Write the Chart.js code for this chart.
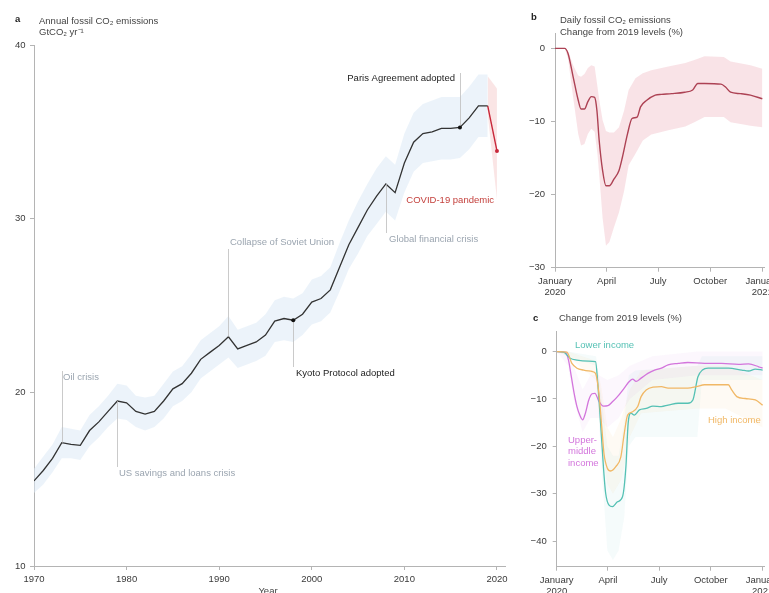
<!DOCTYPE html>
<html>
<head>
<meta charset="utf-8">
<script src="https://cdn.jsdelivr.net/npm/chart.js@4.4.1/dist/chart.umd.min.js"></script>
<style>
html, body { margin: 0; padding: 0; width: 769px; height: 593px; overflow: hidden; background: #fff; }
canvas { position: absolute; }
</style>
</head>
<body>
<canvas id="chartA" width="520" height="593" style="left:0;top:0"></canvas>
<canvas id="chartB" width="300" height="300" style="left:520px;top:0"></canvas>
<canvas id="chartC" width="300" height="293" style="left:520px;top:300px"></canvas>
<script>
// panel a: annual fossil CO2 (GtCO2/yr)
var years = [1970,1971,1972,1973,1974,1975,1976,1977,1978,1979,
             1980,1981,1982,1983,1984,1985,1986,1987,1988,1989,
             1990,1991,1992,1993,1994,1995,1996,1997,1998,1999,
             2000,2001,2002,2003,2004,2005,2006,2007,2008,2009,
             2010,2011,2012,2013,2014,2015,2016,2017,2018,2019,2020];
var emissions = [14.9,15.5,16.2,17.1,17.0,16.95,17.8,18.3,18.9,19.5,
                 19.4,18.9,18.75,18.9,19.5,20.2,20.5,21.1,21.9,22.3,
                 22.7,23.2,22.5,22.7,22.9,23.3,24.1,24.25,24.15,24.5,
                 25.2,25.4,25.9,27.2,28.5,29.5,30.5,31.3,32.0,31.5,
                 33.2,34.4,34.9,35.0,35.2,35.2,35.25,35.8,36.5,36.5,33.9];
var emissionsHigh = [15.6,16.3,17.0,18.0,17.9,17.8,18.7,19.2,19.8,20.5,
                     20.4,19.8,19.7,19.8,20.5,21.2,21.5,22.2,23.0,23.4,
                     23.8,24.4,23.6,23.8,24.0,24.5,25.3,25.5,25.4,25.7,
                     26.5,26.7,27.2,28.6,29.9,31.0,32.0,32.9,33.6,33.1,
                     34.9,36.1,36.6,36.8,37.0,37.0,37.0,37.6,38.3,38.3,null];
var emissionsLow = [14.2,14.7,15.4,16.2,16.2,16.1,16.9,17.4,18.0,18.5,
                    18.4,18.0,17.8,18.0,18.5,19.2,19.5,20.0,20.8,21.2,
                    21.6,22.0,21.4,21.6,21.8,22.1,22.9,23.0,22.9,23.3,
                    23.9,24.1,24.6,25.8,27.1,28.0,29.0,29.7,30.4,29.9,
                    31.5,32.7,33.2,33.3,33.4,33.4,33.5,34.0,34.7,34.7,null];
var covidYears = [2019, 2020];
var covidHigh = [38.2, 37.5];
var covidLow = [36.0, 31.1];
var markerYears = [1998, 2016];
var yearTicks = [1970, 1980, 1990, 2000, 2010, 2020];
var annualTicks = [10, 20, 30, 40];

var eventYears = [1973, 1979, 1991, 1998, 2008, 2016, 2020];
var eventLabels = ['Oil crisis', 'US savings and loans crisis', 'Collapse of Soviet Union',
                   'Kyoto Protocol adopted', 'Global financial crisis', 'Paris Agreement adopted',
                   'COVID-19 pandemic'];

// panel b: daily change from 2019 (%), x = day of 2020
var dailyDays = [0,17,23,32,41,46,52,58,64,70,74,78,84,90,96,104,113,119,128,136,145,151,162,177,188,206,229,243,252,264,293,301,310,327,345,366];
var dailyChange = [0,0,-0.7,-3.9,-7.1,-8.3,-8.3,-7.3,-6.6,-6.7,-8.5,-12.6,-16.7,-18.8,-18.8,-17.9,-16.7,-14.9,-11.7,-9.6,-9.4,-8.0,-7.1,-6.4,-6.3,-6.2,-6.0,-5.7,-4.8,-4.8,-4.9,-5.3,-6.0,-6.2,-6.4,-6.9];
var dailyBandDays = [0,17,23,32,41,46,52,58,64,70,75,78,84,90,96,104,113,122,130,142,155,170,200,230,246,264,298,310,345,366];
var dailyHigh = [0,0,-0.3,-2.3,-3.7,-3.9,-3.5,-2.7,-2.3,-2.5,-5.3,-7.0,-9.8,-11.3,-11.5,-11.5,-10.8,-8.5,-5.7,-4.1,-3.4,-3.0,-2.5,-2.0,-1.6,-1.1,-1.2,-1.8,-2.3,-2.8];
var dailyLow = [0,0,-1.4,-6.7,-11.7,-13.3,-13.1,-11.7,-11.0,-11.4,-14.5,-17.2,-23.2,-27.0,-26.5,-24.5,-22.4,-19.5,-16.0,-14.4,-12.6,-11.8,-11.2,-10.7,-10.1,-9.4,-9.4,-10.1,-10.6,-10.8];
var monthTicks = [0, 91, 182, 274, 366];
var monthLabels = [['January', '2020'], 'April', 'July', 'October', ['January', '2021']];
var dailyTicks = [0, -10, -20, -30];

// panel c: by income group
var lowerDays = [0,12,24,36,57,69,73,78,83,87,93,99,108,117,123,127,132,138,147,159,171,186,198,216,233,242,251,259,269,305,329,341,353,366];
var lowerChange = [0,-0.1,-1.4,-1.8,-2.0,-2.1,-6.7,-15.1,-24.3,-29.9,-32.4,-32.7,-31.7,-30.6,-24.3,-15.1,-13.0,-13.4,-12.3,-12.0,-11.5,-11.6,-11.3,-10.9,-10.9,-10.2,-5.3,-3.9,-3.5,-3.5,-3.9,-4.1,-3.7,-3.9];
var upperMidDays = [0,15,21,26,31,36,41,46,51,57,63,68,75,83,91,99,108,120,129,135,141,150,162,174,186,198,216,233,263,293,323,341,359,366];
var upperMidChange = [0,-0.1,-1.8,-5.3,-8.8,-11.6,-13.4,-14.4,-13.0,-10.2,-8.9,-8.8,-10.5,-11.5,-11.4,-10.6,-9.5,-7.7,-6.3,-5.8,-6.3,-5.6,-4.6,-3.9,-3.5,-2.8,-2.5,-2.3,-2.5,-2.5,-2.7,-2.6,-3.2,-3.5];
var highDays = [0,18,27,36,48,63,69,75,80,84,90,96,105,114,120,126,135,144,150,159,171,186,198,216,233,248,263,281,305,311,320,335,353,366];
var highChange = [0,-0.1,-2.5,-3.5,-3.9,-4.2,-4.6,-8.8,-15.8,-21.5,-24.6,-25.2,-24.3,-22.2,-17.3,-13.4,-12.7,-11.6,-9.5,-8.1,-7.5,-7.4,-7.7,-7.7,-7.7,-7.4,-7.0,-7.0,-7.0,-8.1,-9.5,-9.9,-10.2,-11.3];

var lowerBandDays = [0,20,70,80,90,100,110,120,128,140,250,258,366];
var lowerBandHigh = [0,0,-1,-10,-20,-22,-22,-15,-5,-4,-3,-1,-1];
var lowerBandLow = [0,-1,-3,-25,-42,-44,-42,-35,-20,-18,-18,-6,-6];
var upperMidBandDays = [0,20,30,46,60,75,90,110,130,170,250,366];
var upperMidBandHigh = [0,0,-3,-8,-5,-5,-6,-5,-3,-1,0,0];
var upperMidBandLow = [0,-3,-10,-17,-14,-14,-16,-14,-10,-6,-5,-5];
var highBandDays = [0,20,70,80,90,100,115,130,150,250,300,366];
var highBandHigh = [0,0,-2,-8,-16,-18,-14,-8,-4,-3,-3,-6];
var highBandLow = [0,-1,-6,-20,-28,-30,-27,-18,-13,-12,-12,-16];
var groupTicks = [0, -10, -20, -30, -40];

Chart.defaults.font.family = "'Liberation Sans', Arial, sans-serif";
Chart.defaults.font.size = 9.5;
Chart.defaults.color = '#3a3a3a';

var FONT = "9.5px 'Liberation Sans', Arial, sans-serif";
var BOLD = "bold 9.5px 'Liberation Sans', Arial, sans-serif";
var AXIS = '#b4b4b4';
var GREY_TXT = '#9ba5b0';

function pts(xs, ys) {
    return xs.map(function (x, i) { return { x: x, y: ys[i] }; });
}
function minus(v) {
    return v < 0 ? '\u2212' + Math.abs(v) : String(v);
}
function band(xs, lo, hi, colour) {
    return [
        { data: pts(xs, lo), borderWidth: 0, pointRadius: 0, fill: false },
        { data: pts(xs, hi), borderWidth: 0, pointRadius: 0, fill: '-1', backgroundColor: colour }
    ];
}
function line(xs, ys, colour, width) {
    return { data: pts(xs, ys), borderColor: colour, borderWidth: width || 1.3, pointRadius: 0,
             fill: false, cubicInterpolationMode: 'monotone' };
}
function text(ctx, s, x, y, colour, align, font) {
    ctx.save();
    ctx.font = font || FONT;
    ctx.fillStyle = colour;
    ctx.textAlign = align || 'left';
    ctx.textBaseline = 'middle';
    ctx.fillText(s, x, y);
    ctx.restore();
}
function axisX(min, max, ticks, labels, height, fmt) {
    return {
        type: 'linear', min: min, max: max,
        afterBuildTicks: function (s) { s.ticks = ticks.map(function (v) { return { value: v }; }); },
        afterFit: function (s) { s.height = height; },
        grid: { drawOnChartArea: false, tickLength: 4, color: AXIS },
        border: { color: AXIS, width: 1 },
        ticks: { padding: 3.5, maxRotation: 0, autoSkip: false,
                 callback: function (v) { return labels ? labels[ticks.indexOf(v)] : fmt(v); } }
    };
}
function axisY(min, max, ticks, width, pad) {
    return {
        min: min, max: max,
        afterBuildTicks: function (s) { s.ticks = ticks.map(function (v) { return { value: v }; }); },
        afterFit: function (s) { s.width = width; },
        grid: { drawOnChartArea: false, tickLength: 4, color: AXIS },
        border: { color: AXIS, width: 1 },
        ticks: { padding: pad, callback: minus }
    };
}
function opts(padding, x, y) {
    return {
        responsive: false, animation: false,
        layout: { padding: padding },
        plugins: { legend: { display: false }, tooltip: { enabled: false },
                   filler: { drawTime: 'beforeDatasetsDraw' } },
        scales: { x: x, y: y }
    };
}

// ---- panel a ----
var eventLayout = [
    { tx: 63,  ty: 377, end: 371, align: 'left',  colour: GREY_TXT },
    { tx: 119, ty: 473, end: 467, align: 'left',  colour: GREY_TXT },
    { tx: 230, ty: 242, end: 249, align: 'left',  colour: GREY_TXT },
    { tx: 296, ty: 373, end: 367, align: 'left',  colour: '#222' },
    { tx: 389, ty: 239, end: 233, align: 'left',  colour: GREY_TXT },
    { tx: 455, ty: 78,  end: 73,  align: 'right', colour: '#222' },
    { tx: 494, ty: 200, end: null, align: 'right', colour: '#c4413d' }
];

var annotatePlugin = {
    id: 'annotateA',
    afterDatasetsDraw: function (chart) {
        var ctx = chart.ctx, xs = chart.scales.x, ys = chart.scales.y;
        eventYears.forEach(function (yr, i) {
            var L = eventLayout[i];
            if (L.end !== null) {
                var px = Math.round(xs.getPixelForValue(yr)) + 0.5;
                var py = ys.getPixelForValue(emissions[years.indexOf(yr)]);
                ctx.save();
                ctx.strokeStyle = '#bdbdbd';
                ctx.lineWidth = 0.8;
                ctx.beginPath();
                ctx.moveTo(px, py);
                ctx.lineTo(px, L.end);
                ctx.stroke();
                ctx.restore();
            }
            text(ctx, eventLabels[i], L.tx, L.ty, L.colour, L.align);
        });
        // markers
        markerYears.forEach(function (yr) {
            ctx.save();
            ctx.fillStyle = '#111';
            ctx.beginPath();
            ctx.arc(xs.getPixelForValue(yr), ys.getPixelForValue(emissions[years.indexOf(yr)]), 2, 0, Math.PI * 2);
            ctx.fill();
            ctx.restore();
        });
        var last = years.length - 1;
        ctx.save();
        ctx.fillStyle = '#c8283a';
        ctx.beginPath();
        ctx.arc(xs.getPixelForValue(years[last]), ys.getPixelForValue(emissions[last]), 2, 0, Math.PI * 2);
        ctx.fill();
        ctx.restore();

        text(ctx, 'a', 15, 19, '#222', 'left', BOLD);
        text(ctx, 'Annual fossil CO\u2082 emissions', 39, 21, '#444');
        text(ctx, 'GtCO\u2082 yr\u207B\u00B9', 39, 32, '#444');
        text(ctx, 'Year', 268, 591, '#444', 'center');
    }
};

var histYears = years.slice(0, years.length - 1);
var histValues = emissions.slice(0, years.length - 1);
var covidValues = covidYears.map(function (y) { return emissions[years.indexOf(y)]; });

new Chart(document.getElementById('chartA'), {
    type: 'line',
    data: {
        datasets: band(histYears, emissionsLow.slice(0, histYears.length), emissionsHigh.slice(0, histYears.length), 'rgba(220,234,246,0.55)')
            .concat(band(covidYears, covidLow, covidHigh, 'rgba(240,170,170,0.3)'))
            .concat([
                { data: pts(histYears, histValues), borderColor: '#333', borderWidth: 1.3, pointRadius: 0, fill: false, tension: 0 },
                { data: pts(covidYears, covidValues), borderColor: '#c8283a', borderWidth: 1.4, pointRadius: 0, fill: false, tension: 0 }
            ])
    },
    options: opts({ top: 45, right: 14.7, left: 0, bottom: 0 },
        axisX(1970, 2020.9, yearTicks, null, 27, function (v) { return String(v); }),
        axisY(10, 40, annualTicks, 34, 4.5)),
    plugins: [annotatePlugin]
});

// ---- panel b ----
new Chart(document.getElementById('chartB'), {
    type: 'line',
    data: {
        datasets: band(dailyBandDays, dailyLow, dailyHigh, 'rgba(240,186,194,0.4)')
            .concat([line(dailyDays, dailyChange, '#ad4254', 1.4)])
    },
    options: opts({ top: 33.7, right: 55.4, left: 0, bottom: 0 },
        axisX(0, 370, monthTicks, monthLabels, 32.3),
        axisY(-30, 2, dailyTicks, 35, 6)),
    plugins: [{
        id: 'titleB',
        afterDraw: function (chart) {
            var ctx = chart.ctx;
            text(ctx, 'b', 11, 17, '#222', 'left', BOLD);
            text(ctx, 'Daily fossil CO\u2082 emissions', 40, 20, '#444');
            text(ctx, 'Change from 2019 levels (%)', 40, 32, '#444');
        }
    }]
});

// ---- panel c ----
var TEAL = '#55c1b4', MAG = '#d375dc', ORANGE = '#f1b866';
new Chart(document.getElementById('chartC'), {
    type: 'line',
    data: {
        datasets: band(lowerBandDays, lowerBandLow, lowerBandHigh, 'rgba(85,193,180,0.06)')
            .concat(band(highBandDays, highBandLow, highBandHigh, 'rgba(241,184,102,0.07)'))
            .concat(band(upperMidBandDays, upperMidBandLow, upperMidBandHigh, 'rgba(211,117,220,0.06)'))
            .concat([
                line(highDays, highChange, ORANGE),
                line(lowerDays, lowerChange, TEAL),
                line(upperMidDays, upperMidChange, MAG)
            ])
    },
    options: opts({ top: 31.7, right: 55.1, left: 0, bottom: 0 },
        axisX(0, 370, monthTicks, monthLabels, 26.3),
        axisY(-45.4, 4.2, groupTicks, 36.7, 6)),
    plugins: [{
        id: 'titleC',
        afterDraw: function (chart) {
            var ctx = chart.ctx;
            text(ctx, 'c', 13, 18, '#222', 'left', BOLD);
            text(ctx, 'Change from 2019 levels (%)', 39, 18, '#444');
            text(ctx, 'Lower income', 55, 45, TEAL);
            text(ctx, 'High income', 188, 120, ORANGE);
            text(ctx, 'Upper-', 48, 140, MAG);
            text(ctx, 'middle', 48, 151.5, MAG);
            text(ctx, 'income', 48, 163, MAG);
        }
    }]
});
</script>
</body>
</html>
